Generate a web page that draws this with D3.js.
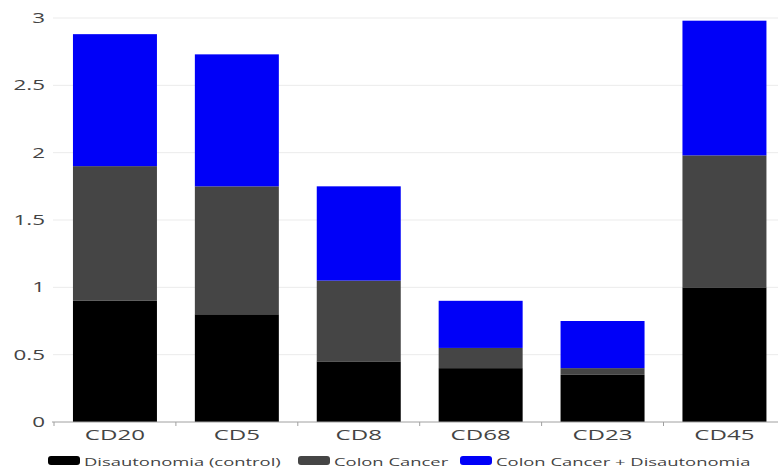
<!DOCTYPE html>
<html>
<head>
<meta charset="utf-8">
<script src="https://cdn.jsdelivr.net/npm/d3@7"></script>
<style>
  html, body { margin: 0; padding: 0; background: #fff; }
  svg { display: block; font-family: "Open Sans", "Noto Sans", sans-serif; }
</style>
</head>
<body>
<svg id="chart"></svg>
<script>
const W = 778, H = 471;
const STRETCH = 1.6; // text in the picture is stretched wide

const categories = ["CD20", "CD5", "CD8", "CD68", "CD23", "CD45"];
const seriesNames = ["Disautonomia (control)", "Colon Cancer", "Colon Cancer + Disautonomia"];
const control   = [0.90, 0.80, 0.45, 0.40, 0.35, 1.00];
const cancer    = [1.00, 0.95, 0.60, 0.15, 0.05, 0.98];
const combined  = [0.98, 0.98, 0.70, 0.35, 0.35, 1.00];
const yTicks = [0, 0.5, 1, 1.5, 2, 2.5, 3];

const colors = ["#000000", "#454545", "#0000f8"];

const svg = d3.select("#chart").attr("width", W).attr("height", H);

const x = d3.scaleBand().domain(categories).range([54, 785.4])
  .paddingInner(0.311).paddingOuter(0.1555);
const y = d3.scaleLinear().domain([0, 3]).range([422, 18]);

// build stacked rows
const rows = categories.map((c, i) => ({
  cat: c,
  [seriesNames[0]]: control[i],
  [seriesNames[1]]: cancer[i],
  [seriesNames[2]]: combined[i]
}));
const stacked = d3.stack().keys(seriesNames)(rows);

// grid
svg.append("g").selectAll("line").data(yTicks.filter(d => d > 0)).join("line")
  .attr("x1", 53).attr("x2", W)
  .attr("y1", d => y(d)).attr("y2", d => y(d))
  .attr("stroke", "#ebebeb").attr("stroke-width", 1);

// y tick labels
svg.append("g").selectAll("text").data(yTicks).join("text")
  .attr("x", 45).attr("y", d => y(d)).attr("dy", "0.36em")
  .attr("text-anchor", "end")
  .attr("fill", "#444").style("font-size", "14px")
  .text(d => d);

// bars
svg.append("g").selectAll("g").data(stacked).join("g")
  .attr("fill", (d, i) => colors[i])
  .selectAll("rect").data(d => d).join("rect")
    .attr("x", d => x(d.data.cat))
    .attr("width", x.bandwidth())
    .attr("y", d => y(d[1]))
    .attr("height", d => y(d[0]) - y(d[1]));

// x axis
const xAxis = svg.append("g").attr("transform", `translate(0,${y(0)})`);
xAxis.append("line").attr("x1", 52).attr("x2", W)
  .attr("stroke", "#a0a0a0").attr("stroke-width", 1);
const bounds = categories.map(c => x(c) - (x.step() - x.bandwidth()) / 2);
xAxis.selectAll(".tk").data(bounds).join("line").attr("class", "tk")
  .attr("x1", d => d).attr("x2", d => d).attr("y1", 0).attr("y2", 4)
  .attr("stroke", "#a0a0a0");

svg.append("g").attr("class", "xlab").selectAll("text").data(categories).join("text")
  .attr("x", d => x(d) + x.bandwidth() / 2).attr("y", 440)
  .attr("text-anchor", "middle")
  .attr("fill", "#444").style("font-size", "14px")
  .text(d => d);

// legend
const legX = [48, 298, 460];
const leg = svg.append("g").selectAll("g").data(seriesNames).join("g")
  .attr("transform", (d, i) => `translate(${legX[i]},0)`);
leg.append("rect").attr("x", 0).attr("y", 456).attr("width", 32).attr("height", 9)
  .attr("rx", 3).attr("fill", (d, i) => colors[i]);
leg.append("text").attr("x", 36).attr("y", 465.5)
  .attr("fill", "#444").style("font-size", "11.5px")
  .text(d => d);

// widen all text to match the stretched look
svg.selectAll("text").each(function () {
  const len = this.getComputedTextLength();
  const k = this.parentNode.getAttribute("class") === "xlab" ? 1.72 : STRETCH;
  d3.select(this).attr("textLength", len * k).attr("lengthAdjust", "spacingAndGlyphs");
});
</script>
</body>
</html>
